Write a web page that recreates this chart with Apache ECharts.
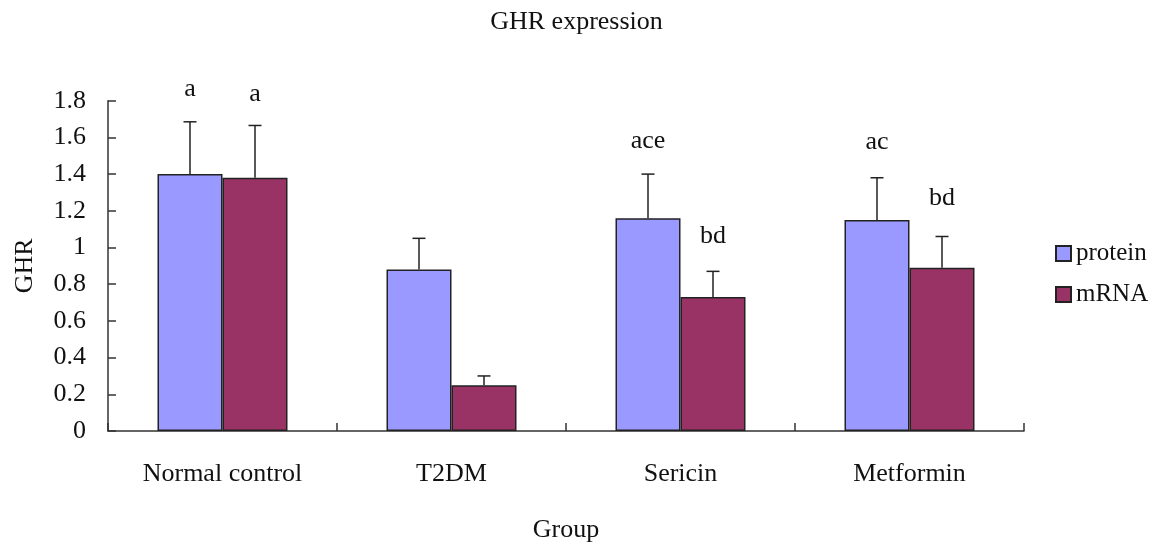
<!DOCTYPE html>
<html>
<head>
<meta charset="utf-8">
<script src="https://cdn.jsdelivr.net/npm/echarts@6/dist/echarts.min.js"></script>
<style>
html,body{margin:0;padding:0;background:#fff;}
#chart{width:1153px;height:548px;}
</style>
</head>
<body>
<div id="chart"></div>
<script>
// ---- data ----
var categories = ['Normal control', 'T2DM', 'Sericin', 'Metformin'];
var seriesNames = ['protein', 'mRNA'];
var proteinValues = [1.40, 0.88, 1.16, 1.15];
var proteinErrors = [0.285, 0.17, 0.24, 0.23];
var mrnaValues = [1.38, 0.25, 0.73, 0.89];
var mrnaErrors = [0.285, 0.05, 0.14, 0.17];
var proteinLabels = ['a', '', 'ace', 'ac'];
var proteinLabelY = [1.865, 0, 1.582, 1.573];
var mrnaLabels = ['a', '', 'bd', 'bd'];
var mrnaLabelY = [1.834, 0, 1.06, 1.267];
var yTicks = { min: 0, max: 1.8, interval: 0.2 };

// ---- style ----
var FONT = '"Liberation Serif", "Times New Roman", serif';
var COLORS = ['#9999FF', '#993366'];
var BAR_W = 65;
var AXIS_COLOR = '#333';

function errorSeries(values, errors, offsetSign) {
  var data = values.map(function (v, i) { return [i, v, v + errors[i]]; });
  return {
    type: 'custom',
    silent: true,
    z: 5,
    renderItem: function (params, api) {
      var idx = api.value(0);
      var base = api.coord([idx, api.value(1)]);
      var top = api.coord([idx, api.value(2)]);
      var x = base[0] + offsetSign * BAR_W / 2;
      var cap = 6.5;
      return {
        type: 'group',
        children: [
          { type: 'line', shape: { x1: x, y1: base[1], x2: x, y2: top[1] }, style: { stroke: '#222', lineWidth: 1.5 } },
          { type: 'line', shape: { x1: x - cap, y1: top[1], x2: x + cap, y2: top[1] }, style: { stroke: '#222', lineWidth: 1.5 } }
        ]
      };
    },
    data: data
  };
}

function labelSeries(texts, ys, offsetSign) {
  var data = [];
  texts.forEach(function (t, i) { if (t) data.push([i, ys[i], t]); });
  return {
    type: 'custom',
    silent: true,
    z: 6,
    renderItem: function (params, api) {
      var p = api.coord([api.value(0), api.value(1)]);
      return {
        type: 'text',
        style: {
          x: p[0] + offsetSign * BAR_W / 2,
          y: p[1],
          text: data[params.dataIndex][2],
          font: '26px ' + FONT,
          fill: '#111',
          align: 'center',
          verticalAlign: 'middle'
        }
      };
    },
    data: data
  };
}

var chart = echarts.init(document.getElementById('chart'), null, { renderer: 'canvas' });
chart.setOption({
  animation: false,
  backgroundColor: '#fff',
  title: {
    text: 'GHR expression',
    left: 'center',
    top: 4,
    textStyle: { fontFamily: FONT, fontSize: 26, fontWeight: 'normal', color: '#111' }
  },
  legend: {
    orient: 'vertical',
    left: 1050,
    top: 236,
    itemWidth: 15,
    itemHeight: 15,
    itemGap: 16,
    icon: 'rect',
    data: seriesNames,
    textStyle: { fontFamily: FONT, fontSize: 25, color: '#111' }
  },
  grid: { left: 108, right: 129, top: 100.7, bottom: 116.3, containLabel: false },
  xAxis: {
    type: 'category',
    data: categories,
    boundaryGap: true,
    name: 'Group',
    nameLocation: 'middle',
    nameGap: 86,
    nameTextStyle: { fontFamily: FONT, fontSize: 26, color: '#111' },
    axisLine: { show: true, lineStyle: { color: AXIS_COLOR, width: 1.5 } },
    axisTick: { show: true, inside: true, length: 8, lineStyle: { color: AXIS_COLOR, width: 1.5 } },
    axisLabel: { fontFamily: FONT, fontSize: 26, color: '#111', margin: 30 },
    splitLine: { show: false }
  },
  yAxis: {
    type: 'value',
    min: yTicks.min,
    max: yTicks.max,
    interval: yTicks.interval,
    name: 'GHR',
    nameLocation: 'middle',
    nameRotate: 90,
    nameGap: 70,
    nameTextStyle: { fontFamily: FONT, fontSize: 26, color: '#111' },
    axisLine: { show: true, lineStyle: { color: AXIS_COLOR, width: 1.5 } },
    axisTick: { show: true, inside: true, length: 8, lineStyle: { color: AXIS_COLOR, width: 1.5 } },
    axisLabel: { fontFamily: FONT, fontSize: 26, color: '#111', margin: 22 },
    splitLine: { show: false }
  },
  series: [
    {
      name: seriesNames[0],
      type: 'bar',
      data: proteinValues,
      barWidth: BAR_W,
      barGap: '0%',
      itemStyle: { color: COLORS[0], borderColor: '#222', borderWidth: 1.5 }
    },
    {
      name: seriesNames[1],
      type: 'bar',
      data: mrnaValues,
      barWidth: BAR_W,
      barGap: '0%',
      itemStyle: { color: COLORS[1], borderColor: '#222', borderWidth: 1.5 }
    },
    errorSeries(proteinValues, proteinErrors, -1),
    errorSeries(mrnaValues, mrnaErrors, 1),
    labelSeries(proteinLabels, proteinLabelY, -1),
    labelSeries(mrnaLabels, mrnaLabelY, 1)
  ]
});
</script>
</body>
</html>
